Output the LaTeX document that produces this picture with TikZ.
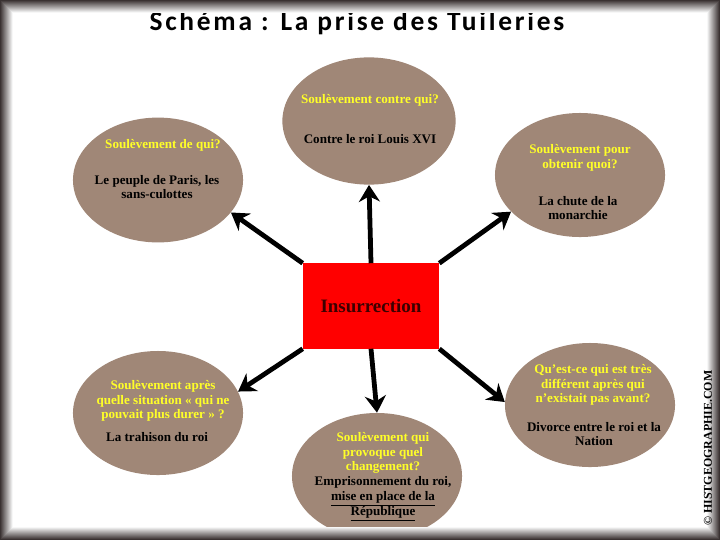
\documentclass[tikz,border=0pt]{standalone}
\usepackage{fontspec}
\setmainfont{Liberation Serif}
\newfontfamily\titrefont[LetterSpace=10]{Carlito}
\usetikzlibrary{shapes.geometric,arrows.meta}

\definecolor{cadre}{RGB}{58,50,50}
\definecolor{bois}{RGB}{160,135,119}
\definecolor{jaune}{RGB}{255,255,40}
\definecolor{rouge}{RGB}{255,0,0}
\definecolor{brunfonce}{RGB}{60,0,0}

\begin{document}
\begin{tikzpicture}[x=0.025cm, y=-0.025cm,
    bulle/.style={ellipse, fill=bois, inner sep=0pt},
    question/.style={text=jaune, font=\bfseries\fontsize{9.3}{10.4}\selectfont, align=center},
    reponse/.style={text=black, font=\bfseries\fontsize{9.3}{10.6}\selectfont, align=center},
    fleche/.style={-{Stealth[length=12pt, width=15pt]}, line width=3.4pt}]

  \useasboundingbox (0,0) rectangle (720,540);
  \fill[white] (0,0) rectangle (720,540);

  % titre
  \node[anchor=base] (titre) at (357,30) {\titrefont\bfseries\fontsize{19.5}{21}\selectfont Schéma : La prise des Tuileries};

  % bulles
  \node[bulle, minimum width=4.33cm, minimum height=3.18cm] (contre) at (369,121) {};
  \node[bulle, minimum width=4.25cm, minimum height=3.12cm] (qui) at (158,180) {};
  \node[bulle, minimum width=4.25cm, minimum height=3.1cm] (quoi) at (580,175) {};
  \node[bulle, minimum width=4.25cm, minimum height=3.1cm] (apres) at (158,413) {};
  \node[bulle, minimum width=4.25cm, minimum height=3.15cm] (change) at (377,476) {};
  \node[bulle, minimum width=4.25cm, minimum height=3.1cm] (diff) at (590,405) {};

  % textes des bulles
  \node[question] (contreQ) at (370,100) {Soulèvement contre qui?};
  \node[reponse] (contreR) at (370,139) {Contre le roi Louis XVI};

  \node[question] (quiQ) at (163,145) {Soulèvement de qui?};
  \node[reponse] (quiR) at (157,187) {Le peuple de Paris, les\\sans-culottes};

  \node[question] (quoiQ) at (580,158) {Soulèvement pour\\obtenir quoi?};
  \node[reponse] (quoiR) at (578,208) {La chute de la\\monarchie};

  \node[question] (apresQ) at (163,401) {Soulèvement après\\quelle situation « qui ne\\pouvait plus durer » ?};
  \node[reponse] (apresR) at (157,437) {La trahison du roi};

  \node[question] (changeQ) at (383,453) {Soulèvement qui\\provoque quel\\changement?};
  \node[reponse] (changeR) at (383,499) {Emprisonnement du roi,\\\underline{mise en place de la}\\\underline{République}};

  \node[question] (diffQ) at (593,385) {Qu'est-ce qui est très\\différent après qui\\n'existait pas avant?};
  \node[reponse] (diffR) at (594,434) {Divorce entre le roi et la\\Nation};

  % insurrection
  \node[fill=rouge, minimum width=3.4cm, minimum height=2.125cm,
        text=brunfonce, font=\bfseries\fontsize{13.5}{15}\selectfont] (insur) at (371,306) {Insurrection};

  % fleches
  \draw[fleche] (insur.north) -- (contre.south);
  \draw[fleche] (insur.north west) -- (qui.-24);
  \draw[fleche] (insur.north east) -- (quoi.-152);
  \draw[fleche] (insur.south west) -- (apres.15);
  \draw[fleche] (insur.south) -- (change.north);
  \draw[fleche] (insur.south east) -- (diff.178);

  % cadre ombre
  \foreach \i in {0,...,12} {
    \pgfmathtruncatemacro\p{\i*8}
    \draw[white!\p!cadre, line width=0.03cm] (\i+0.5,\i+0.5) rectangle (719.5-\i,539.5-\i);
  }

  % signature
  \node[rotate=90, font=\bfseries\fontsize{8.5}{10}\selectfont] (signe) at (708,448) {© HISTGEOGRAPHIE.COM};

\end{tikzpicture}
\end{document}
